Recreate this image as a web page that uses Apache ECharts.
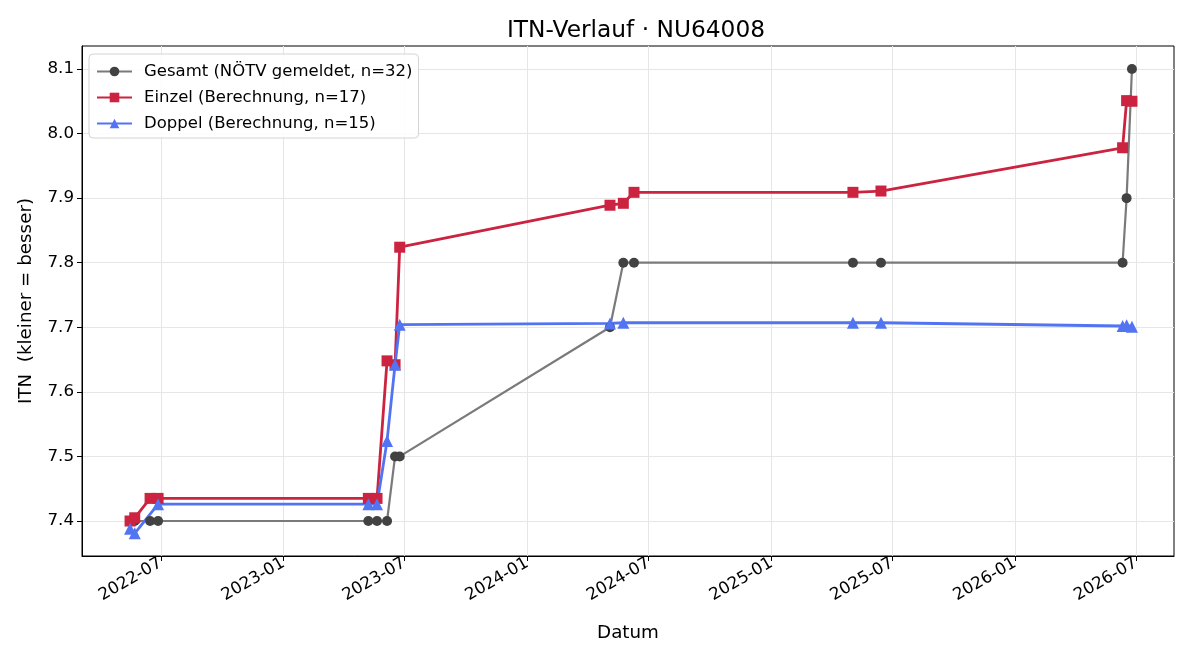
<!DOCTYPE html>
<html>
<head>
<meta charset="utf-8">
<script src="https://cdn.jsdelivr.net/npm/echarts@6/dist/echarts.min.js"></script>
<style>
  html, body { margin: 0; padding: 0; background: #fff; }
  #chart { width: 1200px; height: 660px; }
</style>
</head>
<body>
<div id="chart"></div>
<script>
// ITN-Verlauf
var tickLabels = ['2022-07', '2023-01', '2023-07', '2024-01', '2024-07', '2025-01', '2025-07', '2026-01', '2026-07'];
var yTicks = [7.4, 7.5, 7.6, 7.7, 7.8, 7.9, 8.0, 8.1];

var gesamtDates = ['2022-05-16', '2022-05-23', '2022-06-15', '2022-06-27', '2023-05-08', '2023-05-21', '2023-06-05',
    '2023-06-17', '2023-06-24', '2024-05-04', '2024-05-24', '2024-06-09', '2025-05-03', '2025-06-14',
    '2026-06-11', '2026-06-17', '2026-06-25'];
var gesamtValues = [7.4, 7.4, 7.4, 7.4, 7.4, 7.4, 7.4, 7.5, 7.5, 7.7, 7.8, 7.8, 7.8, 7.8, 7.8, 7.9, 8.1];

var einzelDates = ['2022-05-16', '2022-05-23', '2022-06-15', '2022-06-27', '2023-05-08', '2023-05-21', '2023-06-05',
    '2023-06-17', '2023-06-24', '2024-05-04', '2024-05-24', '2024-06-09', '2025-05-03', '2025-06-14',
    '2026-06-11', '2026-06-17', '2026-06-25'];
var einzelValues = [7.400, 7.405, 7.435, 7.435, 7.435, 7.435, 7.648, 7.642, 7.824, 7.889, 7.892, 7.909, 7.909, 7.911,
    7.978, 8.051, 8.050];

var doppelDates = ['2022-05-16', '2022-05-23', '2022-06-27', '2023-05-08', '2023-05-21', '2023-06-05', '2023-06-17',
    '2023-06-24', '2024-05-04', '2024-05-24', '2025-05-03', '2025-06-14', '2026-06-11', '2026-06-17', '2026-06-25'];
var doppelValues = [7.388, 7.381, 7.426, 7.426, 7.426, 7.524, 7.642, 7.704, 7.706, 7.707, 7.707, 7.707, 7.702, 7.703, 7.701];

var FONT = 'DejaVu Sans';

function toTime(s) {
    return new Date(s + 'T00:00:00Z').getTime();
}

function pairs(dates, values) {
    var arr = [];
    for (var i = 0; i < dates.length; i++) {
        arr.push([toTime(dates[i]), values[i]]);
    }
    return arr;
}

var xTicks = tickLabels.map(function (t) { return toTime(t + '-01'); });

function fmtMonth(v) {
    var d = new Date(v);
    var m = d.getUTCMonth() + 1;
    return d.getUTCFullYear() + '-' + (m < 10 ? '0' + m : m);
}

var chart = echarts.init(document.getElementById('chart'), null, {renderer: 'canvas'});

var option = {
    animation: false,
    backgroundColor: '#fff',
    title: {
        text: 'ITN-Verlauf · NU64008',
        left: 631,
        textAlign: 'center',
        top: 14,
        textStyle: {fontFamily: FONT, fontSize: 23.3, fontWeight: 'normal', color: '#000'}
    },
    legend: {
        orient: 'vertical',
        left: 89,
        top: 54,
        padding: [9, 6, 6, 7],
        itemWidth: 35,
        itemHeight: 12,
        itemGap: 9,
        backgroundColor: 'rgba(255,255,255,0.85)',
        borderColor: '#d4d4d4',
        borderWidth: 1,
        borderRadius: 4,
        textStyle: {fontFamily: FONT, fontSize: 16.5, color: '#000', padding: [0, 0, 0, 7]},
        data: ['Gesamt (NÖTV gemeldet, n=32)', 'Einzel (Berechnung, n=17)', 'Doppel (Berechnung, n=15)']
    },
    grid: {
        left: 82, right: 26, top: 46, bottom: 104,
        show: true, borderColor: '#000', borderWidth: 1
    },
    xAxis: {
        type: 'value',
        min: toTime('2022-03-05'),
        max: toTime('2026-08-27'),
        scale: true,
        name: 'Datum',
        nameLocation: 'middle',
        nameGap: 68,
        nameTextStyle: {fontFamily: FONT, fontSize: 18.3, color: '#000'},
        axisLine: {show: true, lineStyle: {color: '#000', width: 1}},
        axisTick: {show: true, length: 5, inside: false, lineStyle: {color: '#000'}, customValues: xTicks},
        axisLabel: {
            customValues: xTicks,
            rotate: 30,
            margin: 6,
            fontFamily: FONT, fontSize: 16.7, color: '#000',
            formatter: fmtMonth
        },
        splitLine: {show: true, lineStyle: {color: '#e6e6e6', width: 1}}
    },
    yAxis: {
        type: 'value',
        min: 7.3458,
        max: 8.1356,
        name: 'ITN  (kleiner = besser)',
        nameLocation: 'middle',
        nameGap: 47,
        nameTextStyle: {fontFamily: FONT, fontSize: 18.3, color: '#000'},
        axisLine: {show: true, lineStyle: {color: '#000', width: 1}},
        axisTick: {show: true, length: 5, lineStyle: {color: '#000'}, customValues: yTicks},
        axisLabel: {
            customValues: yTicks,
            margin: 8,
            fontFamily: FONT, fontSize: 16.7, color: '#000',
            formatter: function (v) { return v.toFixed(1); }
        },
        splitLine: {show: true, lineStyle: {color: '#e6e6e6', width: 1}}
    },
    series: [
        {
            name: 'Gesamt (NÖTV gemeldet, n=32)',
            type: 'line',
            data: pairs(gesamtDates, gesamtValues),
            symbol: 'circle',
            symbolSize: 10,
            showAllSymbol: true,
            lineStyle: {color: '#7a7a7a', width: 2.2},
            itemStyle: {color: '#424242', borderWidth: 0}
        },
        {
            name: 'Einzel (Berechnung, n=17)',
            type: 'line',
            data: pairs(einzelDates, einzelValues),
            symbol: 'rect',
            symbolSize: 11,
            showAllSymbol: true,
            lineStyle: {color: '#cb2340', width: 2.8},
            itemStyle: {color: '#cb2340', borderWidth: 0}
        },
        {
            name: 'Doppel (Berechnung, n=15)',
            type: 'line',
            data: pairs(doppelDates, doppelValues),
            symbol: 'triangle',
            symbolSize: 12,
            showAllSymbol: true,
            lineStyle: {color: '#5274f3', width: 2.8},
            itemStyle: {color: '#5274f3', borderWidth: 0}
        }
    ]
};

chart.setOption(option);
</script>
</body>
</html>
